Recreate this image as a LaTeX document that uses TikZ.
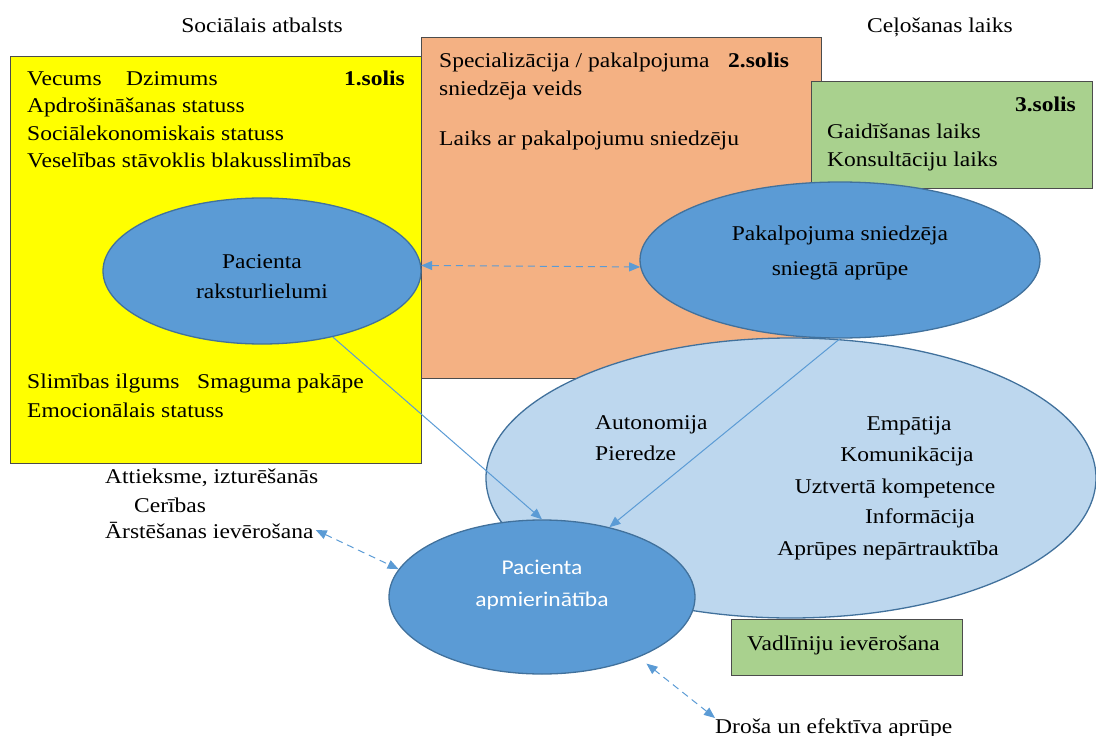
\documentclass[tikz,border=0pt]{standalone}
\usepackage{fontspec}
\setmainfont[FakeStretch=1.12]{Liberation Serif}
\newfontfamily\calibrifont[FakeStretch=1.12]{Carlito}
\usetikzlibrary{shapes.geometric,arrows.meta}
\definecolor{boxyellow}{HTML}{FFFF00}
\definecolor{boxorange}{HTML}{F4B183}
\definecolor{boxgreen}{HTML}{A9D18E}
\definecolor{ellblue}{HTML}{5B9BD5}
\definecolor{elllight}{HTML}{BDD7EE}
\definecolor{ellline}{HTML}{41719C}
\definecolor{arrowblue}{HTML}{5B9BD5}
\begin{document}
\begin{tikzpicture}[x=1pt,y=-1pt,
  txt/.style={font=\fontsize{21}{25}\selectfont, inner sep=0pt, anchor=base west},
  txtc/.style={txt, anchor=base},
  txtr/.style={txt, anchor=base east},
  bold/.style={font=\fontsize{21}{25}\selectfont\bfseries},
  panel/.style={draw=black!70, line width=0.8pt, inner sep=0pt, outer sep=0pt, anchor=north west},
  bubble/.style={ellipse, draw=ellline, line width=1.3pt, fill=ellblue, inner sep=0pt},
  conn/.style={draw=arrowblue, line width=1pt, -{Triangle[length=11pt,width=9pt]}},
  dconn/.style={draw=arrowblue, line width=1pt, dash pattern=on 7pt off 5pt,
    {Triangle[length=11pt,width=9pt]}-{Triangle[length=11pt,width=9pt]}}
]
\useasboundingbox (0,0) rectangle (1096,736);

% headings
\node[txtc] (social) at (262,32) {Sociālais atbalsts};
\node[txtc] (travel) at (940,32) {Ceļošanas laiks};

% step panels
\node[panel, fill=boxyellow, minimum width=411pt, minimum height=407pt] (step1) at (10,56) {};
\node[panel, fill=boxorange, minimum width=400pt, minimum height=341pt] (step2) at (421,37) {};
\node[panel, fill=boxgreen, minimum width=281pt, minimum height=107pt] (step3) at (811,81) {};

% step 1 contents
\node[txt] (age) at (27,85) {Vecums};
\node[txt] (sex) at (126,85) {Dzimums};
\node[txtr, bold] (s1) at (405,85) {1.solis};
\node[txt] (ins) at (27,112) {Apdrošināšanas statuss};
\node[txt] (ses) at (27,140) {Sociālekonomiskais statuss};
\node[txt] (health) at (27,167) {Veselības stāvoklis blakusslimības};
\node[txt] (dur) at (27,388) {Slimības ilgums};
\node[txt] (sev) at (197,388) {Smaguma pakāpe};
\node[txt] (emo) at (27,417) {Emocionālais statuss};

% step 2 contents
\node[txt] (spec) at (439,67) {Specializācija / pakalpojuma};
\node[txt, bold, anchor=base west] (s2) at (728,67) {2.solis};
\node[txt] (ptype) at (439,95) {sniedzēja veids};
\node[txt] (ptime) at (439,145) {Laiks ar pakalpojumu sniedzēju};

% step 3 contents
\node[txtr, bold] (s3) at (1076,111) {3.solis};
\node[txt] (wait) at (827,138) {Gaidīšanas laiks};
\node[txt] (cons) at (827,166) {Konsultāciju laiks};

% ellipses
\node[bubble, fill=elllight, minimum width=610pt, minimum height=280pt] (qual) at (791,478) {};
\node[bubble, minimum width=318pt, minimum height=146pt] (rak) at (262,271) {};
\node[bubble, minimum width=400pt, minimum height=156pt] (pak) at (840,260) {};

\node[txtc] (rak1) at (262,268) {Pacienta};
\node[txtc] (rak2) at (262,298) {raksturlielumi};
\node[txtc] (pak1) at (840,240) {Pakalpojuma sniedzēja};
\node[txtc] (pak2) at (840,275) {sniegtā aprūpe};

% care quality attributes
\node[txt] (auto) at (595,429) {Autonomija};
\node[txt] (exp) at (595,460) {Pieredze};
\node[txtc] (emp) at (909,430) {Empātija};
\node[txtc] (comm) at (907,461) {Komunikācija};
\node[txtc] (comp) at (895,493) {Uztvertā kompetence};
\node[txtc] (info) at (920,523) {Informācija};
\node[txtc] (cont) at (888,555) {Aprūpes nepārtrauktība};

% outcome
\node[bubble, minimum width=306pt, minimum height=154pt] (apm) at (542,597) {};
\node[txtc, text=white, font=\calibrifont\fontsize{21}{25}\selectfont] (apm1) at (542,574) {Pacienta};
\node[txtc, text=white, font=\calibrifont\fontsize{21}{25}\selectfont] (apm2) at (542,606) {apmierinātība};

\node[panel, fill=boxgreen, minimum width=231pt, minimum height=56pt] (guide) at (731,619) {};
\node[txt] (guidet) at (747,650) {Vadlīniju ievērošana};

% patient side
\node[txt] (att) at (105,483) {Attieksme, izturēšanās};
\node[txt] (hope) at (134,512) {Cerības};
\node[txt, inner sep=2pt] (adh) at (103,538) {Ārstēšanas ievērošana};
\node[txt] (safe) at (715,733) {Droša un efektīva aprūpe};

% connectors
\draw[dconn] (rak.2) -- (pak.182);
\draw[conn] (rak.-43) -- (apm.north);
\draw[conn] (pak.south) -- (apm.46);
\draw[dconn] (adh.east) -- (apm.169);
\draw[dconn, shorten >=10pt] (safe.north west) -- (apm.-32);
\end{tikzpicture}
\end{document}
